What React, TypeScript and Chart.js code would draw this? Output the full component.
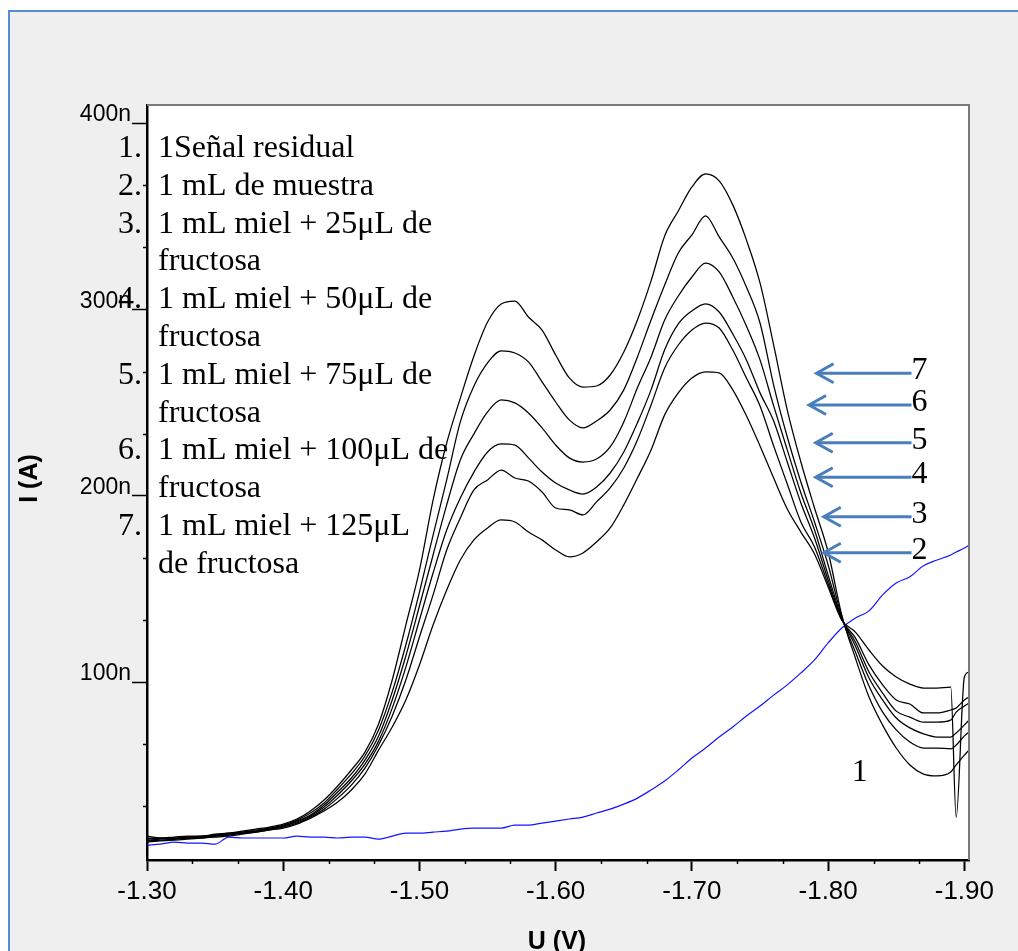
import React, { useEffect, useRef } from "react";
import { Chart, registerables } from "chart.js";

Chart.register(...registerables);

// Potential (V) shared by all curves
const voltages = [
  -1.30, -1.31, -1.32, -1.33, -1.34, -1.35, -1.36, -1.37, -1.38, -1.39,
  -1.40, -1.41, -1.42, -1.43, -1.44, -1.45, -1.46, -1.47, -1.48, -1.49,
  -1.50, -1.51, -1.52, -1.53, -1.54, -1.55, -1.56, -1.57, -1.58, -1.59,
  -1.60, -1.61, -1.62, -1.63, -1.64, -1.65, -1.66, -1.67, -1.68, -1.69,
  -1.70, -1.71, -1.72, -1.73, -1.74, -1.75, -1.76, -1.77, -1.78, -1.79,
  -1.80, -1.81, -1.82, -1.83, -1.84, -1.85, -1.86, -1.87, -1.88, -1.89,
  -1.894, -1.90, -1.9034,
];

// Currents in nA
const residual = [
  12.5, 13.0, 14.1, 13.6, 13.6, 13.0, 16.8, 16.3, 16.3, 16.3,
  16.3, 17.3, 16.8, 16.8, 16.3, 16.8, 16.8, 15.7, 17.3, 18.9,
  18.9, 19.5, 20.0, 21.1, 21.6, 21.6, 21.6, 23.2, 23.2, 24.3,
  25.4, 26.5, 27.5, 29.7, 31.8, 34.5, 37.7, 42.1, 46.9, 52.8,
  59.2, 64.6, 70.5, 75.9, 81.8, 87.1, 93.0, 98.5, 104.9, 111.9,
  121.0, 129.0, 134.4, 138.2, 146.8, 153.2, 156.5, 162.4, 165.5, 168.2,
  169.8, 171.9, 173.5,
];
const muestra = [
  14.1, 14.7, 15.2, 15.7, 16.3, 16.8, 17.3, 18.4, 19.5, 20.6,
  21.6, 23.8, 27.0, 30.8, 35.6, 42.1, 50.7, 63.5, 75.9, 90.4,
  109.2, 130.6, 149.4, 165.5, 176.3, 182.7, 187.0, 185.9, 180.5, 176.3,
  170.9, 167.2, 169.3, 175.2, 182.7, 195.1, 209.5, 224.6, 243.4, 255.2,
  263.2, 266.5, 265.9, 256.8, 242.9, 226.7, 209.5, 192.9, 180.5, 168.7,
  151.0, 133.3, 126.8, 117.2, 108.6, 102.7, 98.9, 96.8, 96.8, 97.3,
  27.5, 102.7, 105.4,
];
const fructosa25 = [
  14.7, 15.2, 15.7, 16.3, 16.8, 17.3, 18.4, 18.9, 19.5, 20.6,
  22.2, 24.3, 27.5, 31.8, 37.7, 44.7, 53.8, 66.2, 81.8, 101.1,
  124.2, 146.8, 170.9, 188.1, 203.1, 208.5, 213.8, 209.5, 207.9, 202.0,
  193.4, 192.4, 189.7, 196.7, 204.2, 214.9, 229.9, 248.7, 268.6, 280.9,
  289.0, 292.7, 290.0, 278.2, 263.2, 248.2, 226.7, 206.3, 185.9, 172.5,
  152.6, 133.3, 123.7, 109.2, 98.5, 90.4, 88.2, 83.4, 83.4, 85.0,
  86.1, 90.4, 92.0,
];
const fructosa50 = [
  17.3, 16.3, 15.7, 16.8, 16.3, 17.3, 17.9, 18.9, 20.0, 21.1,
  22.7, 24.9, 28.1, 32.9, 39.4, 46.9, 56.0, 68.3, 86.0, 108.0,
  133.3, 158.5, 181.6, 198.8, 212.7, 223.5, 227.8, 227.2, 220.3, 212.7,
  206.8, 203.1, 200.9, 204.7, 212.2, 223.5, 239.1, 256.8, 278.3, 292.2,
  299.2, 303.0, 298.6, 286.8, 272.9, 255.2, 240.1, 218.1, 196.1, 177.3,
  154.8, 133.8, 121.5, 105.4, 94.1, 84.4, 81.2, 78.5, 78.5, 79.6,
  83.9, 87.1, 88.7,
];
const fructosa75 = [
  15.2, 15.7, 16.3, 16.3, 16.8, 17.9, 18.4, 19.5, 20.0, 21.6,
  22.7, 25.4, 28.6, 34.0, 41.0, 48.5, 58.1, 71.0, 90.4, 114.0,
  140.8, 168.2, 195.1, 219.2, 233.2, 245.0, 251.4, 249.8, 244.4, 236.4,
  227.2, 220.3, 218.1, 219.7, 226.2, 239.6, 257.9, 274.5, 294.3, 307.2,
  317.4, 324.9, 320.1, 306.7, 291.1, 272.9, 248.2, 224.6, 201.5, 181.6,
  157.4, 134.4, 119.4, 102.2, 90.4, 80.7, 75.4, 72.2, 70.5, 70.5,
  72.7, 77.0, 79.6,
];
const fructosa100 = [
  15.7, 16.3, 16.3, 16.8, 17.3, 17.9, 18.9, 19.5, 20.6, 21.6,
  23.2, 25.9, 29.7, 35.1, 42.6, 50.7, 60.3, 74.3, 94.7, 119.9,
  148.3, 178.9, 208.5, 239.6, 258.9, 271.3, 277.7, 276.6, 271.8, 261.1,
  250.3, 240.7, 236.4, 240.1, 246.0, 256.8, 274.5, 294.3, 313.1, 330.3,
  340.0, 350.2, 338.9, 327.6, 312.0, 292.7, 259.4, 231.5, 207.4, 185.9,
  162.8, 134.9, 116.1, 97.9, 83.9, 74.3, 67.8, 64.6, 64.6, 64.1,
  66.2, 71.1, 73.2,
];
const fructosa125 = [
  16.3, 16.3, 16.8, 17.3, 17.3, 18.4, 18.9, 20.0, 21.1, 22.2,
  23.8, 26.5, 30.8, 36.7, 44.2, 52.8, 62.4, 77.5, 101.1, 130.6,
  160.1, 197.7, 228.3, 252.4, 275.0, 293.2, 302.9, 304.5, 295.9, 288.9,
  275.5, 263.2, 258.3, 258.9, 264.8, 277.1, 294.3, 315.3, 339.4, 352.8,
  365.7, 372.7, 369.0, 356.1, 337.3, 314.2, 280.9, 246.0, 218.1, 193.4,
  169.8, 136.0, 112.9, 92.0, 76.9, 64.6, 55.5, 50.6, 49.6, 51.7,
  55.5, 60.8, 63.5,
];

const xTickValues = [-1.3, -1.4, -1.5, -1.6, -1.7, -1.8, -1.9];
const xMinorTickValues = [
  -1.3333, -1.3667, -1.4333, -1.4667, -1.5333, -1.5667,
  -1.6333, -1.6667, -1.7333, -1.7667, -1.8333, -1.8667,
];
const yTickValues = [100, 200, 300, 400];
const yMinorTickValues = [33.33, 66.67, 133.33, 166.67, 233.33, 266.67, 333.33, 366.67];

const legendNumbers = ["1.", "2.", "3.", "4.", "5.", "6.", "7."];
const legendTexts = [
  ["1Señal residual"],
  ["1 mL de muestra"],
  ["1 mL miel + 25μL de", "fructosa"],
  ["1 mL miel + 50μL de", "fructosa"],
  ["1 mL miel + 75μL de", "fructosa"],
  ["1 mL miel + 100μL de", "fructosa"],
  ["1 mL miel + 125μL", "de fructosa"],
];

const arrowNames = ["7", "6", "5", "4", "3", "2"];
const arrowLevels = [265.7, 248.7, 228.4, 209.9, 188.7, 169.4];
const arrowTips = [-1.7915, -1.786, -1.7909, -1.7909, -1.7968, -1.7968];
const arrowTail = -1.8612;

const residualLabel = "1";
const residualLabelV = -1.8232;
const residualLabelI = 51.2;

const xTitle = "U (V)";
const yTitle = "I (A)";

const SERIF = '"Liberation Serif", "Times New Roman", serif';
const SANS = '"Liberation Sans", Arial, sans-serif';

const decorPlugin = {
  id: "decor",
  beforeDraw(chart: any) {
    const { ctx, chartArea: a } = chart;
    ctx.save();
    ctx.fillStyle = "#ffffff";
    ctx.fillRect(a.left, a.top, a.right - a.left, a.bottom - a.top);
    ctx.restore();
  },
  afterDraw(chart: any) {
    const { ctx, chartArea: a } = chart;
    const xs = chart.scales.x;
    const ys = chart.scales.y;
    ctx.save();
    // top / right frame
    ctx.strokeStyle = "#7a7a7a";
    ctx.lineWidth = 2;
    ctx.beginPath();
    ctx.moveTo(a.left, a.top);
    ctx.lineTo(a.right, a.top);
    ctx.lineTo(a.right, a.bottom);
    ctx.stroke();

    // minor ticks
    ctx.strokeStyle = "#000";
    ctx.lineWidth = 1.5;
    ctx.beginPath();
    xMinorTickValues.forEach((v) => {
      const px = Math.round(xs.getPixelForValue(v)) + 0.5;
      ctx.moveTo(px, a.bottom);
      ctx.lineTo(px, a.bottom + 4);
    });
    yMinorTickValues.forEach((v) => {
      const py = Math.round(ys.getPixelForValue(v)) + 0.5;
      ctx.moveTo(a.left - 4, py);
      ctx.lineTo(a.left, py);
    });
    ctx.stroke();

    // legend list
    ctx.fillStyle = "#000";
    ctx.font = `32px ${SERIF}`;
    ctx.textBaseline = "alphabetic";
    let line = 0;
    const lh = 37.8;
    const firstBase = a.top + 52;
    legendTexts.forEach((lines, i) => {
      ctx.textAlign = "right";
      ctx.fillText(legendNumbers[i], a.left - 5, firstBase + line * lh);
      ctx.textAlign = "left";
      lines.forEach((t, j) => {
        ctx.fillText(t, a.left + 11, firstBase + (line + j) * lh);
      });
      line += lines.length;
    });

    // arrows
    const tailX = xs.getPixelForValue(arrowTail);
    arrowNames.forEach((name, i) => {
      const tipX = xs.getPixelForValue(arrowTips[i]);
      const yy = ys.getPixelForValue(arrowLevels[i]);
      ctx.strokeStyle = "#4A7EBB";
      ctx.lineWidth = 3;
      ctx.beginPath();
      ctx.moveTo(tailX, yy);
      ctx.lineTo(tipX + 1, yy);
      ctx.stroke();
      ctx.beginPath();
      ctx.moveTo(tipX + 17, yy - 9.5);
      ctx.lineTo(tipX, yy);
      ctx.lineTo(tipX + 17, yy + 9.5);
      ctx.stroke();
      ctx.fillStyle = "#000";
      ctx.textAlign = "left";
      ctx.fillText(name, tailX, yy + 6);
    });

    // residual label
    ctx.textAlign = "center";
    ctx.textBaseline = "middle";
    ctx.fillText(
      residualLabel,
      xs.getPixelForValue(residualLabelV),
      ys.getPixelForValue(residualLabelI)
    );

    // axis titles
    ctx.font = `bold 25px ${SANS}`;
    ctx.textBaseline = "alphabetic";
    ctx.textAlign = "center";
    ctx.fillText(xTitle, (a.left + a.right) / 2 - 1, 949);
    ctx.save();
    ctx.translate(37, (a.top + a.bottom) / 2 - 4);
    ctx.rotate(-Math.PI / 2);
    ctx.fillText(yTitle, 0, 0);
    ctx.restore();

    ctx.restore();
  },
};

export default function App() {
  const ref = useRef<HTMLCanvasElement>(null);

  useEffect(() => {
    const canvas = ref.current;
    if (!canvas) return;
    const pts = (s: number[]) => voltages.map((v, i) => ({ x: v, y: s[i] }));
    const black = (label: string, s: number[]) => ({
      label,
      data: pts(s),
      borderColor: "#000000",
      borderWidth: 1.25,
      pointRadius: 0,
      cubicInterpolationMode: "monotone" as const,
      fill: false,
    });
    const chart = new Chart(canvas, {
      type: "line",
      data: {
        datasets: [
          black("7", fructosa125),
          black("6", fructosa100),
          black("5", fructosa75),
          black("4", fructosa50),
          black("3", fructosa25),
          black("2", muestra),
          {
            label: "1",
            data: pts(residual),
            borderColor: "#1414ff",
            borderWidth: 1.2,
            pointRadius: 0,
            cubicInterpolationMode: "monotone" as const,
            fill: false,
          },
        ],
      },
      options: {
        responsive: false,
        animation: false,
        devicePixelRatio: 1,
        layout: { padding: { top: 105, right: 49, left: 0, bottom: 0 } },
        plugins: {
          legend: { display: false },
          tooltip: { enabled: false },
          title: { display: false },
        },
        scales: {
          x: {
            type: "linear",
            reverse: true,
            min: -1.9034,
            max: -1.3,
            afterBuildTicks: (s: any) => {
              s.ticks = xTickValues.map((v) => ({ value: v }));
            },
            afterFit: (s: any) => {
              s.height = 91;
            },
            ticks: {
              callback: (v: any) => Number(v).toFixed(2),
              font: { family: SANS, size: 26 },
              color: "#000",
              padding: 5,
              maxRotation: 0,
              autoSkip: false,
            },
            grid: {
              display: true,
              drawOnChartArea: false,
              drawTicks: true,
              tickLength: 11,
              tickColor: "#000",
              tickWidth: 2,
            },
            border: { display: true, color: "#000", width: 2.5 },
          },
          y: {
            type: "linear",
            min: 4.5,
            max: 409.7,
            afterBuildTicks: (s: any) => {
              s.ticks = yTickValues.map((v) => ({ value: v }));
            },
            afterFit: (s: any) => {
              s.width = 147;
            },
            ticks: {
              callback: (v: any) => `${v}n`,
              font: { family: SANS, size: 23 },
              color: "#000",
              padding: 1,
              labelOffset: -8,
              autoSkip: false,
            },
            grid: {
              display: true,
              drawOnChartArea: false,
              drawTicks: true,
              tickLength: 15,
              tickColor: "#000",
              tickWidth: 1.5,
            },
            border: { display: true, color: "#000", width: 2.5 },
          },
        },
      },
      plugins: [decorPlugin],
    });
    return () => chart.destroy();
  }, []);

  return (
    <div
      style={{
        position: "fixed",
        left: 0,
        top: 0,
        width: 1018,
        height: 951,
        overflow: "hidden",
        background: "#ffffff",
      }}
    >
      <div
        style={{
          position: "absolute",
          left: 8,
          top: 10,
          width: 1100,
          height: 1000,
          boxSizing: "border-box",
          borderLeft: "2px solid #558ED5",
          borderTop: "2px solid #558ED5",
          background: "#EFEFEF",
        }}
      />
      <canvas
        ref={ref}
        width={1018}
        height={951}
        style={{ position: "absolute", left: 0, top: 0, width: 1018, height: 951 }}
      />
    </div>
  );
}
